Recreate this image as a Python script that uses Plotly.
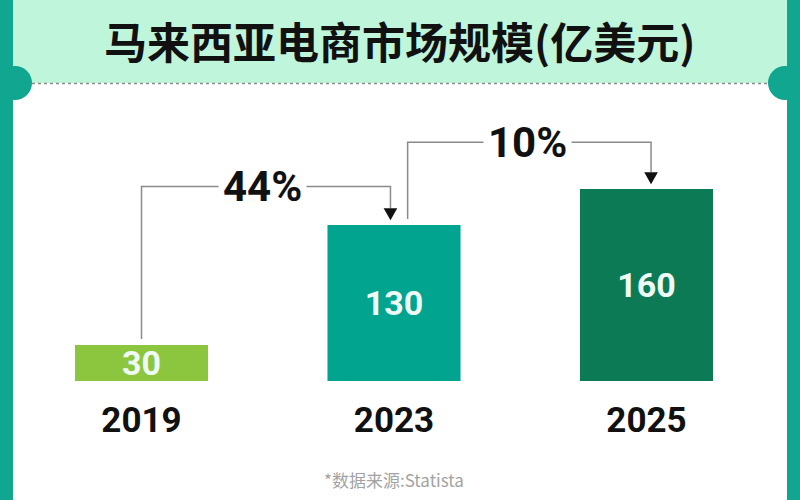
import plotly.graph_objects as go

# ---- data ----
years = ["2019", "2023", "2025"]
values = [30, 130, 160]
growth_labels = ["44%", "10%"]
bar_colors = ["#8cc63f", "#00a48f", "#0b7a55"]
title_text = "马来西亚电商市场规模(亿美元)"
source_text = "*数据来源:Statista"

W, H = 800, 500
BORDER = "#10a68f"
x_pos = list(range(len(years)))


def px(x):
    return x / W


def py(y):
    return 1 - y / H


fig = go.Figure()
fig.add_trace(go.Bar(
    x=x_pos, y=values,
    marker=dict(color=bar_colors, line=dict(width=0)),
    texttemplate="%{y}", textposition="inside", insidetextanchor="middle",
    textangle=0, constraintext="none",
    textfont=dict(family="Roboto", size=34, color="#eefaf3", weight="bold"),
    hoverinfo="skip", cliponaxis=False,
))

shapes = []
# title band
shapes.append(dict(type="rect", xref="paper", yref="paper", x0=px(13), x1=px(787),
                   y0=py(83), y1=py(0), fillcolor="#bff5da", line=dict(width=0), layer="below"))
# dotted line
shapes.append(dict(type="line", xref="paper", yref="paper", x0=px(32), x1=px(769),
                   y0=py(83.5), y1=py(83.5), line=dict(color="#8a8a8a", width=1.5, dash="dot")))
# side borders
shapes.append(dict(type="rect", xref="paper", yref="paper", x0=0, x1=px(13), y0=0, y1=1,
                   fillcolor=BORDER, line=dict(width=0)))
shapes.append(dict(type="rect", xref="paper", yref="paper", x0=px(787), x1=1, y0=0, y1=1,
                   fillcolor=BORDER, line=dict(width=0)))
for cx in (15, 785):
    shapes.append(dict(type="circle", xref="paper", yref="paper",
                       x0=px(cx - 17), x1=px(cx + 17), y0=py(83 + 17), y1=py(83 - 17),
                       fillcolor=BORDER, line=dict(width=0)))

LINE = dict(color="#8a8a8a", width=1.5)


def connector(i_from, i_to, level, x_start, x_end, gap_from, gap_to):
    y0 = values[i_from] + gap_from
    tip = values[i_to] + gap_to
    head_h = 10
    head_w = 0.027
    shapes.append(dict(type="path", xref="x", yref="y",
                       path=f"M {x_start},{y0} L {x_start},{level} L {x_end},{level} L {x_end},{tip + head_h}",
                       line=LINE))
    shapes.append(dict(type="path", xref="x", yref="y",
                       path=f"M {x_end - head_w},{tip + head_h} L {x_end + head_w},{tip + head_h} L {x_end},{tip} Z",
                       fillcolor="#111111", line=dict(width=0)))


# 2019 -> 2023
connector(0, 1, 162, 0.0, 0.986, 5, 4)
# 2023 -> 2025
connector(1, 2, 199, 1.054, 2.018, 5, 4)

annotations = [
    dict(x=0.48, y=162, xref="x", yref="y", text=growth_labels[0], showarrow=False,
         font=dict(family="Roboto", size=42, color="#111111", weight="bold"),
         bgcolor="white", borderpad=4, xanchor="center", yanchor="middle"),
    dict(x=1.53, y=199, xref="x", yref="y", text=growth_labels[1], showarrow=False,
         font=dict(family="Roboto", size=42, color="#111111", weight="bold"),
         bgcolor="white", borderpad=4, xanchor="center", yanchor="middle"),
    dict(x=0.5, y=py(40), xref="paper", yref="paper", text=title_text, showarrow=False,
         font=dict(family="Noto Sans CJK SC", size=43, color="#111111", weight="bold"),
         xanchor="center", yanchor="middle"),
    dict(x=px(394), y=py(479), xref="paper", yref="paper", text=source_text, showarrow=False,
         font=dict(family="Noto Sans CJK SC", size=17, color="#a3a3a3"),
         xanchor="center", yanchor="middle"),
]

K = 1.2  # px per unit
y_top = 234
fig.update_layout(
    width=W, height=H, margin=dict(l=0, r=0, t=0, b=0),
    paper_bgcolor="white", plot_bgcolor="rgba(0,0,0,0)",
    showlegend=False, bargap=0.473,
    shapes=shapes, annotations=annotations,
    xaxis=dict(range=[-0.5, 2.5], domain=[15.25 / W, 772.75 / W],
               tickmode="array", tickvals=x_pos, ticktext=years,
               showgrid=False, zeroline=False, showline=False, ticks="",
               ticklabelstandoff=15,
               tickfont=dict(family="Roboto", size=35, color="#111111", weight="bold")),
    yaxis=dict(range=[0, y_top], domain=[py(381), py(381) + y_top * K / H],
               visible=False, showgrid=False, zeroline=False),
)

fig.write_html("out.html")
